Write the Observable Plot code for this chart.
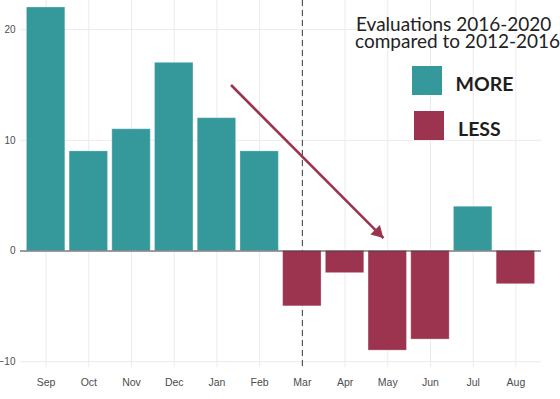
<!DOCTYPE html>
<html>
<head>
<meta charset="utf-8">
<script src="https://cdn.jsdelivr.net/npm/d3@7"></script>
<script src="https://cdn.jsdelivr.net/npm/@observablehq/plot@0.6"></script>
<style>
  html, body { margin: 0; padding: 0; background: #fff; }
  #wrap { position: relative; width: 560px; height: 399px; overflow: hidden; }
  #chart svg { display: block; }
  .lg { position: absolute; font-family: Lato, "Noto Sans", sans-serif; color: #222; white-space: nowrap; }
  .title { font-size: 19px; font-weight: 400; line-height: 17.7px; text-indent: 1px; }
  .key { font-size: 19.5px; font-weight: 700; color: #1e1e1e; line-height: 1; }
  .sw { position: absolute; width: 30px; height: 29px; }
</style>
</head>
<body>
<div id="wrap">
  <div id="chart"></div>
  <div class="lg title" style="left:355px; top:14.5px;">Evaluations 2016-2020<br>compared to 2012-2016</div>
  <div class="sw" id="swMore" style="left:412px; top:66px;"></div>
  <div class="lg key" style="left:455.5px; top:73.5px;">MORE</div>
  <div class="sw" id="swLess" style="left:414px; top:111px;"></div>
  <div class="lg key" style="left:458px; top:118.5px;">LESS</div>
</div>
<script>
const months = ["Sep", "Oct", "Nov", "Dec", "Jan", "Feb", "Mar", "Apr", "May", "Jun", "Jul", "Aug"];
const values = [22, 9, 11, 17, 12, 9, -5, -2, -9, -8, 4, -3];
const yTicks = [-10, 0, 10, 20];
const groups = ["MORE", "LESS"];
const groupColors = ["#35989b", "#9c3450"];
const markerMonth = "Mar";
const arrowFrom = {x: 5.33, y: 15};
const arrowTo = {x: 8.9, y: 1.16};

document.getElementById("swMore").style.background = groupColors[0];
document.getElementById("swLess").style.background = groupColors[1];

const data = months.map((m, i) => ({month: m, idx: i + 1, value: values[i], group: values[i] >= 0 ? "MORE" : "LESS"}));
const idxs = months.map((m, i) => i + 1);
const markerIdx = months.indexOf(markerMonth) + 1;
const arrowData = [{x1: arrowFrom.x, y1: arrowFrom.y, x2: arrowTo.x, y2: arrowTo.y}];

const chart = Plot.plot({
  width: 560,
  height: 399,
  marginLeft: 20,
  marginRight: 19,
  marginTop: 0,
  marginBottom: 31.7,
  style: {fontFamily: '"Liberation Sans", Arial, sans-serif', fontSize: "10.5px", background: "white"},
  x: {type: "linear", domain: [0.4, 12.6], ticks: idxs, tickFormat: d => months[d - 1], tickSize: 0, tickPadding: 11, label: null},
  y: {domain: [-10.55, 22.63], ticks: yTicks, tickSize: 0, tickPadding: 5, label: null},
  color: {domain: groups, range: groupColors},
  marks: [
    Plot.gridX(idxs, {stroke: "#ebebeb", strokeOpacity: 1, strokeWidth: 1}),
    Plot.gridY(yTicks, {stroke: "#ebebeb", strokeOpacity: 1, strokeWidth: 1}),
    Plot.ruleX([markerIdx], {stroke: "#3a3a3a", strokeWidth: 1, strokeDasharray: "6,4"}),
    Plot.rectY(data, {x1: d => d.idx - 0.45, x2: d => d.idx + 0.45, y: "value", fill: "group", stroke: "white", strokeOpacity: 0.3, strokeWidth: 1}),
    Plot.ruleY([0], {stroke: "#444", strokeWidth: 1}),
    Plot.link(arrowData, {x1: "x1", y1: "y1", x2: "x2", y2: "y2", stroke: groupColors[1], strokeWidth: 2.6}),
    Plot.dot(arrowData, {x: "x2", y: "y2", symbol: "triangle", r: 5, rotate: 135, dx: -5.6, dy: -5.7, fill: groupColors[1], stroke: "none"}),
    Plot.axisX({ticks: idxs, tickFormat: d => months[d - 1], tickSize: 0, tickPadding: 11, fill: "#4d4d4d", fontSize: 10.5}),
    Plot.axisY({ticks: yTicks, tickSize: 0, tickPadding: 5, fill: "#4d4d4d", fontSize: 10})
  ]
});
document.getElementById("chart").appendChild(chart);
</script>
</body>
</html>
